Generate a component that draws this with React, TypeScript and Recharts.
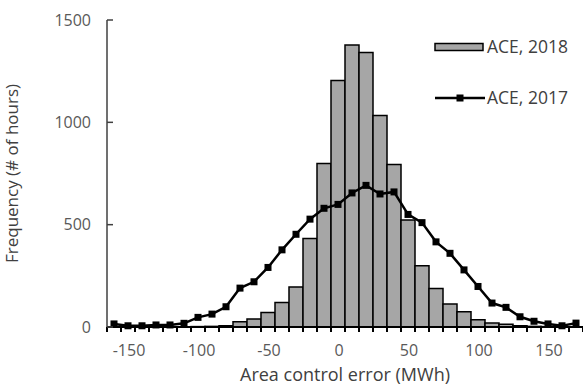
import React from 'react';
import { ComposedChart, Bar, Line, XAxis, YAxis } from 'recharts';

const categories = [-160, -150, -140, -130, -120, -110, -100, -90, -80, -70, -60, -50, -40, -30, -20, -10, 0, 10, 20, 30, 40, 50, 60, 70, 80, 90, 100, 110, 120, 130, 140, 150, 160, 170];
const ace2018 = [0, 0, 0, 0, 0, 1, 2, 3, 6, 26, 39, 71, 120, 196, 432, 799, 1204, 1378, 1341, 1033, 794, 523, 299, 188, 112, 75, 36, 19, 13, 6, 3, 2, 1, 1];
const ace2017 = [15, 6, 6, 10, 10, 18, 47, 63, 99, 190, 221, 291, 377, 453, 527, 580, 599, 655, 692, 650, 660, 550, 510, 416, 360, 279, 198, 117, 96, 50, 28, 15, 6, 19];
const yTicks = [0, 500, 1000, 1500];
const labelEvery = 50;
const seriesNames = ['ACE, 2018', 'ACE, 2017'];

const data = categories.map((c, i) => ({ x: c, y2018: ace2018[i], y2017: ace2017[i] }));

const FONT = '"Open Sans", sans-serif';

const XTick = (props: any) => {
  const { x, y, payload, index } = props;
  const off = payload && payload.offset ? payload.offset : 7;
  const show = payload.value % labelEvery === 0;
  const last = index === categories.length - 1;
  return (
    <g>
      <line x1={x - off} x2={x - off} y1={y} y2={y + 5} stroke="#000" strokeWidth={2} />
      {last && <line x1={x + off} x2={x + off} y1={y} y2={y + 5} stroke="#000" strokeWidth={2} />}
      {show && (
        <text x={x + 1} y={y + 29} textAnchor="middle" fontFamily={FONT} fontSize={16} fill="#595959">
          {payload.value}
        </text>
      )}
    </g>
  );
};

const YTick = (props: any) => {
  const { x, y, payload } = props;
  return (
    <g>
      <line x1={x} x2={x + 6} y1={y} y2={y} stroke="#404040" strokeWidth={1.5} />
      <text x={x - 16} y={y} dy="0.35em" textAnchor="end" fontFamily={FONT} fontSize={16} fill="#595959">
        {payload.value}
      </text>
    </g>
  );
};

const Square = (props: any) => {
  const { cx, cy } = props;
  if (cx == null || cy == null) return null;
  return <rect x={cx - 3.5} y={cy - 3.5} width={7} height={7} fill="#000" />;
};

const LegendBox = () => (
  <svg width={153} height={80} style={{ position: 'absolute', left: 430, top: 35, overflow: 'visible' }}>
    <rect x={5} y={8.5} width={48} height={7} fill="#a6a6a6" stroke="#000" strokeWidth={1.5} />
    <text x={57} y={12} dy="0.35em" fontFamily={FONT} fontSize={17.5} fill="#404040">{seriesNames[0]}</text>
    <line x1={5} x2={55} y1={63} y2={63} stroke="#000" strokeWidth={2.5} />
    <rect x={26.5} y={59.5} width={7} height={7} fill="#000" />
    <text x={57} y={63} dy="0.35em" fontFamily={FONT} fontSize={17.5} fill="#404040">{seriesNames[1]}</text>
  </svg>
);

export default function App() {
  return (
    <div style={{ position: 'absolute', left: 0, top: 0, width: 583, height: 387, background: '#fff' }}>
      <ComposedChart
        width={583}
        height={387}
        data={data}
        margin={{ top: 20, right: 0, bottom: 0, left: 0 }}
        barCategoryGap={0}
        barGap={0}
      >
        <XAxis
          dataKey="x"
          type="category"
          interval={0}
          height={60}
          tickSize={0}
          tickMargin={0}
          tickLine={false}
          tick={<XTick />}
          axisLine={{ stroke: '#000', strokeWidth: 2 }}
          label={{ value: 'Area control error (MWh)', position: 'insideBottom', offset: 6, fontFamily: FONT, fontSize: 18, fill: '#404040' }}
        />
        <YAxis
          width={107}
          domain={[0, 1500]}
          ticks={yTicks}
          interval={0}
          tickSize={0}
          tickMargin={0}
          tickLine={false}
          tick={<YTick />}
          axisLine={{ stroke: '#404040', strokeWidth: 1.5 }}
          label={{ value: 'Frequency (# of hours)', angle: -90, position: 'insideLeft', offset: 12, fontFamily: FONT, fontSize: 17, fill: '#404040', style: { textAnchor: 'middle' } }}
        />
        <Bar dataKey="y2018" name={seriesNames[0]} fill="#a6a6a6" stroke="#000" strokeWidth={1.5} isAnimationActive={false} />
        <Line dataKey="y2017" name={seriesNames[1]} stroke="#000" strokeWidth={2.5} dot={<Square />} activeDot={false} isAnimationActive={false} />
      </ComposedChart>
      <LegendBox />
    </div>
  );
}
